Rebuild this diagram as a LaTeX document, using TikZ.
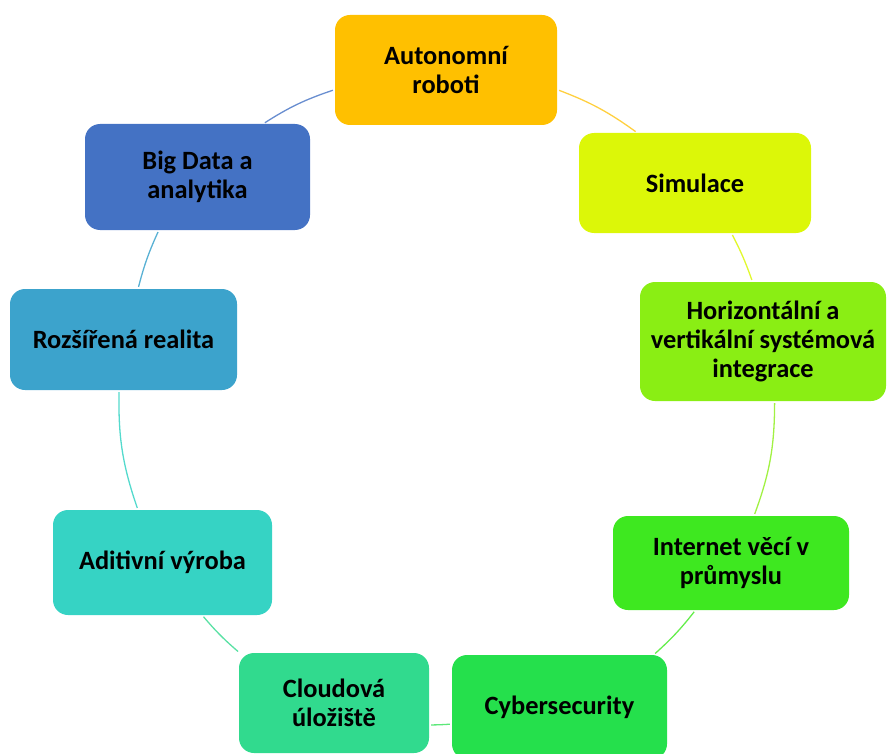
\documentclass[tikz,border=0pt]{standalone}
\usepackage{fontspec}
\setmainfont{Carlito}
\definecolor{cAuto}{HTML}{FFC000}
\definecolor{cSim}{HTML}{DCF708}
\definecolor{cHor}{HTML}{8AEE14}
\definecolor{cInt}{HTML}{3EE820}
\definecolor{cCyb}{HTML}{25E04C}
\definecolor{cCloud}{HTML}{31DA8E}
\definecolor{cAdi}{HTML}{36D3C4}
\definecolor{cRoz}{HTML}{3CA3CC}
\definecolor{cBig}{HTML}{4472C4}
\begin{document}
\begin{tikzpicture}[x=1pt,y=-1pt,
  box/.style={rectangle, rounded corners=15pt, inner sep=0pt, align=center,
    font=\fontsize{26.4}{29}\selectfont\bfseries, text=black},
  link/.style={line width=1.3pt, shorten >=2pt, shorten <=2pt}]
\useasboundingbox (0,0) rectangle (888,754);
\clip (0,0) rectangle (888,754);
\node[box, fill=cAuto, minimum width=222pt, minimum height=110pt] (auto) at (446,70) {Autonomní\\roboti};
\node[box, fill=cSim, minimum width=232pt, minimum height=100pt] (sim) at (695,183) {Simulace};
\node[box, fill=cHor, minimum width=246pt, minimum height=119pt] (hor) at (763,341.5) {Horizontální a\\vertikální systémová\\integrace};
\node[box, fill=cInt, minimum width=236pt, minimum height=94pt] (int) at (731,563) {Internet věcí v\\průmyslu};
\node[box, fill=cCyb, minimum width=215pt, minimum height=104pt] (cyb) at (559.5,707) {Cybersecurity};
\node[box, fill=cCloud, minimum width=190pt, minimum height=100pt] (cloud) at (334,703) {Cloudová\\úložiště};
\node[box, fill=cAdi, minimum width=219pt, minimum height=105pt] (adi) at (162.5,562.5) {Aditivní výroba};
\node[box, fill=cRoz, minimum width=227pt, minimum height=101pt] (roz) at (123.5,339.5) {Rozšířená realita};
\node[box, fill=cBig, minimum width=225pt, minimum height=106pt] (big) at (197.5,177) {Big Data a\\analytika};
\draw[link, cBig!80!white] (big.39) to[bend left=7] (auto.190);
\draw[link, cAuto!75!white] (auto.350) to[bend left=7.5] (sim.139);
\draw[link, cSim!85!white] (sim.306) to[bend left=4] (hor.100);
\draw[link, cHor!80!white] (hor.281) to[bend left=10] (int.64);
\draw[link, cInt!80!white] (int.233) to[bend left=5] (cyb.29);
\draw[link, cCyb!75!white] (cyb.189.5) to[bend left=1.5] (cloud.347);
\draw[link, cCloud!80!white] (cloud.152) to[bend left=4.5] (adi.307);
\draw[link, cAdi!85!white] (adi.115) to[bend left=10] (roz.265);
\draw[link, cRoz!85!white] (roz.74) to[bend left=5] (big.234);
\end{tikzpicture}
\end{document}
